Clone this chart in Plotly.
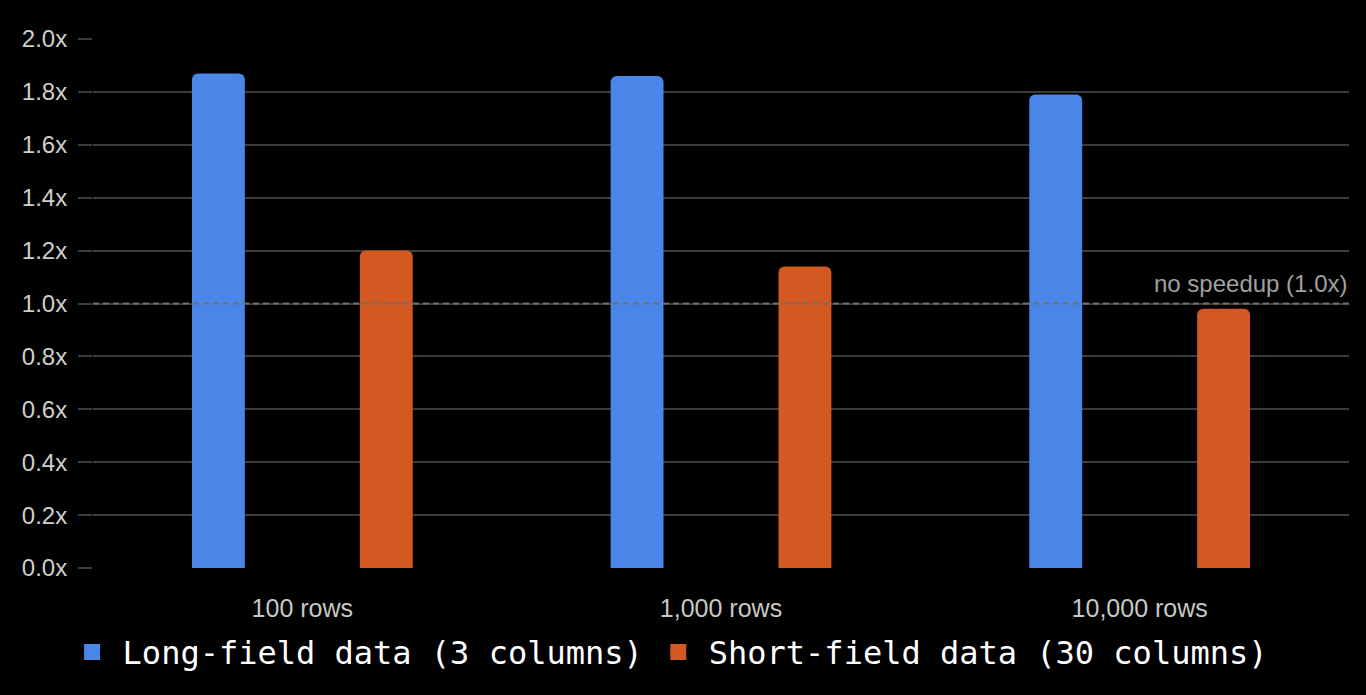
import plotly.graph_objects as go

categories = ["100 rows", "1,000 rows", "10,000 rows"]
long_field = [1.87, 1.86, 1.79]
short_field = [1.20, 1.14, 0.98]
series_names = ["Long-field data (3 columns)", "Short-field data (30 columns)"]
colors = ["#4a86e8", "#d25a22"]
baseline = 1.0
baseline_label = "no speedup (1.0x)"

fig = go.Figure()
for name, vals, c in zip(series_names, [long_field, short_field], colors):
    fig.add_trace(go.Bar(x=categories, y=vals, name=name, marker_color=c,
                         marker_line_width=0, showlegend=False))
    fig.add_trace(go.Scatter(x=[None], y=[None], mode="markers", name=name,
                             marker=dict(symbol="square", size=18, color=c),
                             showlegend=True))

fig.add_shape(type="line", xref="paper", yref="y", x0=0, x1=1, y0=baseline, y1=baseline,
              line=dict(color="#6e6e6e", width=2, dash="6px,4px"), layer="above")
fig.add_annotation(xref="paper", yref="y", x=1, y=baseline, text=baseline_label,
                   showarrow=False, xanchor="right", yanchor="bottom", yshift=5,
                   font=dict(family="Liberation Sans, Arial", size=24, color="#a0a0a0"))

fig.update_layout(
    width=1366, height=695,
    paper_bgcolor="#000000", plot_bgcolor="#000000",
    margin=dict(l=92.5, r=16.5, t=39, b=127),
    barmode="group", bargap=0.198, bargroupgap=0.685, barcornerradius=6,
    font=dict(family="Liberation Sans, Arial", color="#cccccc"),
    legend=dict(orientation="h", x=-0.025, xanchor="left", y=-0.159, yanchor="middle",
                font=dict(family="DejaVu Sans Mono", size=32, color="#ffffff"),
                itemwidth=51,
                bgcolor="rgba(0,0,0,0)", itemclick=False),
    xaxis=dict(showgrid=False, zeroline=False, showline=False,
               tickfont=dict(size=25, color="#c8c8c4"), ticks="", ticklabelstandoff=23),
    yaxis=dict(range=[0, 2.0], dtick=0.2, tickformat=".1f", ticksuffix="x",
               showgrid=True, gridcolor="#3c3c3c", gridwidth=2, zeroline=False,
               ticks="outside", ticklen=14, tickcolor="#3c3c3c", tickwidth=2,
               ticklabelstandoff=6,
               tickfont=dict(size=24, color="#cfcfca")),
)

fig.write_html("out.html", config={"displayModeBar": False},
               post_script="document.body.style.margin='0';document.body.style.background='#000';")
